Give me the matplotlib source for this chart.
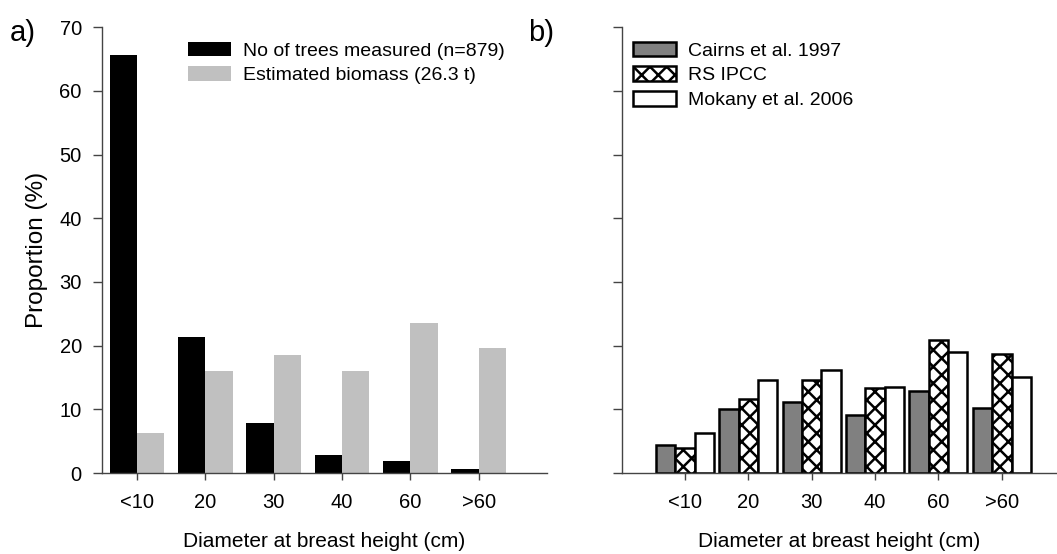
import numpy as np
import matplotlib
matplotlib.use("Agg")
import matplotlib.pyplot as plt

plt.rcParams['font.family'] = ['Liberation Sans', 'DejaVu Sans']
plt.rcParams['hatch.linewidth'] = 1.8

# panel a) data
classes = ["<10", "20", "30", "40", "60", ">60"]
trees_pct = [65.6, 21.4, 7.8, 2.9, 1.9, 0.6]
biomass_pct = [6.3, 16.0, 18.6, 16.1, 23.6, 19.6]

# panel b) data
cairns = [4.4, 10.1, 11.1, 9.2, 12.9, 10.2]
rs_ipcc = [4.0, 11.6, 14.6, 13.4, 20.9, 18.7]
mokany = [6.3, 14.6, 16.2, 13.5, 19.0, 15.1]

yticks = [0, 10, 20, 30, 40, 50, 60, 70]
x = np.arange(len(classes))

fig = plt.figure(figsize=(10.57, 5.54), dpi=100)
ax1 = fig.add_axes([0.0965, 0.146, 0.421, 0.805])
ax2 = fig.add_axes([0.588, 0.146, 0.412, 0.805])

axis_col = "#444444"
for ax in (ax1, ax2):
    for s in ("top", "right"):
        ax.spines[s].set_visible(False)
    for s in ("left", "bottom"):
        ax.spines[s].set_color(axis_col)
        ax.spines[s].set_linewidth(1.0)
    ax.set_ylim(0, 70)
    ax.set_yticks(yticks)
    ax.set_xticks(x)
    ax.set_xticklabels(classes)
    ax.tick_params(axis="y", direction="out", length=6.5, width=1, color=axis_col,
                   labelsize=14.5, pad=8)
    ax.tick_params(axis="x", direction="out", length=5, width=1, color=axis_col,
                   labelsize=14.5, pad=9)
    ax.set_xlabel("Diameter at breast height (cm)", fontsize=15, labelpad=15)

# a)
w1 = 0.4
ax1.bar(x, trees_pct, width=-w1, align="edge", color="black",
        label="No of trees measured (n=879)")
ax1.bar(x, biomass_pct, width=w1, align="edge", color="#c0c0c0",
        label="Estimated biomass (26.3 t)")
ax1.set_xlim(-0.515, 6.0)
ax1.set_ylabel("Proportion (%)", fontsize=17.5, labelpad=8)
ax1.legend(loc="upper left", bbox_to_anchor=(0.176, 0.985), frameon=False,
           fontsize=14, handlelength=2.2, handleheight=0.8,
           handletextpad=0.6, labelspacing=0.33, borderaxespad=0)
fig.text(0.009, 0.94, "a)", fontsize=21, va="center")

# b)
w2 = 0.305
ax2.bar(x - w2, cairns, width=w2, color="#808080", edgecolor="black",
        linewidth=1.8, label="Cairns et al. 1997")
ax2.bar(x, rs_ipcc, width=w2, color="white", edgecolor="black", hatch="xx",
        linewidth=1.8, label="RS IPCC")
ax2.bar(x + w2, mokany, width=w2, color="white", edgecolor="black",
        linewidth=1.8, label="Mokany et al. 2006")
ax2.set_xlim(-1.0, 5.87)
ax2.set_yticklabels([])
ax2.legend(loc="upper left", bbox_to_anchor=(0.009, 0.985), frameon=False,
           fontsize=14, handlelength=2.2, handleheight=0.8,
           handletextpad=0.6, labelspacing=0.33, borderaxespad=0)
fig.text(0.5, 0.94, "b)", fontsize=21, va="center")

fig.savefig("out.png", dpi=100)
